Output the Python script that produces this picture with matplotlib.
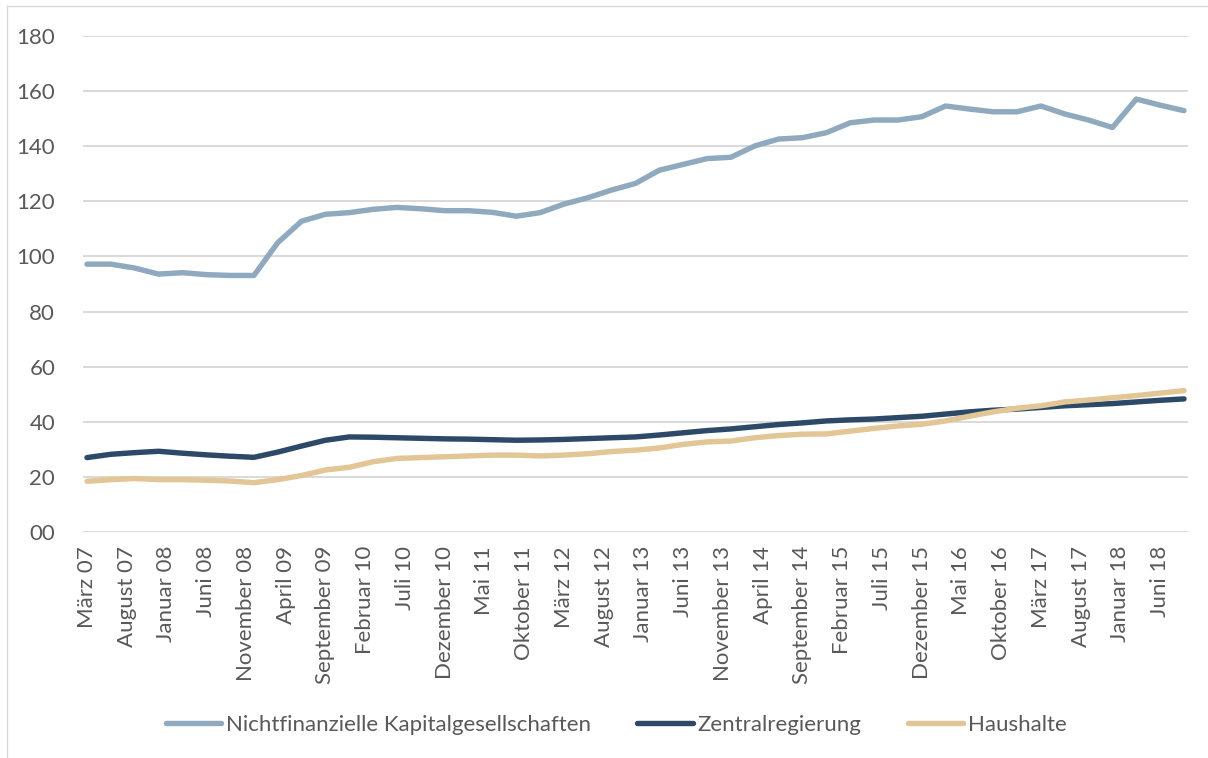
import matplotlib
matplotlib.use("Agg")
import matplotlib.pyplot as plt
from matplotlib.ticker import FixedLocator, FuncFormatter
from matplotlib.lines import Line2D

# Quarterly observations, March 2007 .. September 2018 (x in months since March 2007)
months = list(range(0, 139, 3))

nichtfinanzielle = [97.2, 97.2, 95.8, 93.6, 94.1, 93.4, 93.1, 93.1, 105.0, 112.8,
                    115.3, 115.9, 117.1, 117.8, 117.3, 116.6, 116.6, 116.0, 114.6, 115.9,
                    119.0, 121.3, 124.1, 126.5, 131.3, 133.4, 135.5, 136.0, 140.1, 142.6,
                    143.1, 144.9, 148.5, 149.5, 149.5, 150.7, 154.6, 153.5, 152.5, 152.5,
                    154.6, 151.7, 149.5, 146.8, 157.1, 154.9, 152.9]

zentralregierung = [27.0, 28.2, 28.8, 29.3, 28.6, 28.0, 27.5, 27.1, 29.0, 31.2,
                    33.3, 34.5, 34.4, 34.2, 34.0, 33.8, 33.7, 33.5, 33.3, 33.4,
                    33.6, 33.9, 34.2, 34.5, 35.2, 36.0, 36.8, 37.4, 38.2, 39.0,
                    39.6, 40.3, 40.7, 41.0, 41.5, 42.0, 42.8, 43.6, 44.2, 44.6,
                    45.2, 45.8, 46.2, 46.6, 47.2, 47.8, 48.3]

haushalte = [18.4, 19.0, 19.4, 19.0, 19.0, 18.8, 18.5, 17.9, 19.0, 20.5,
             22.5, 23.5, 25.5, 26.7, 27.0, 27.3, 27.6, 27.9, 27.9, 27.6,
             27.9, 28.4, 29.2, 29.7, 30.5, 31.8, 32.7, 33.0, 34.2, 35.0,
             35.5, 35.6, 36.6, 37.6, 38.5, 39.1, 40.3, 42.0, 43.6, 44.9,
             45.8, 47.2, 47.9, 48.7, 49.5, 50.4, 51.3]

tick_months = list(range(0, 136, 5))
tick_labels = ["März 07", "August 07", "Januar 08", "Juni 08", "November 08", "April 09",
               "September 09", "Februar 10", "Juli 10", "Dezember 10", "Mai 11",
               "Oktober 11", "März 12", "August 12", "Januar 13", "Juni 13",
               "November 13", "April 14", "September 14", "Februar 15", "Juli 15",
               "Dezember 15", "Mai 16", "Oktober 16", "März 17", "August 17",
               "Januar 18", "Juni 18"]

y_ticks = [0, 20, 40, 60, 80, 100, 120, 140, 160, 180]

series_names = ["Nichtfinanzielle Kapitalgesellschaften", "Zentralregierung", "Haushalte"]
colors = ["#8FA9BF", "#2C4A68", "#E2C695"]

plt.rcParams['font.family'] = ['Lato', 'DejaVu Sans']
text_color = "#595959"
fs = 16

W, H = 1208, 758
fig = plt.figure(figsize=(W / 100, H / 100), dpi=100)
ax = fig.add_axes([83 / W, 1 - 532 / H, (1188 - 83) / W, (532 - 36) / H])

for vals, name, c in zip([nichtfinanzielle, zentralregierung, haushalte], series_names, colors):
    ax.plot(months, vals, color=c, lw=3.9, solid_capstyle='round',
            solid_joinstyle='round', label=name, zorder=3)

ax.set_xlim(-0.5, 138.5)
ax.set_ylim(0, 180)
ax.yaxis.set_major_locator(FixedLocator(y_ticks))
ax.yaxis.set_major_formatter(FuncFormatter(lambda v, p: "00" if v == 0 else f"{int(v)}"))
ax.set_xticks(tick_months)
ax.set_xticklabels(tick_labels, rotation=90, ha='center', va='top')

ax.grid(axis='y', color='#D9D9D9', lw=1.4, zorder=0)
ax.grid(axis='x', visible=False)
for s in ax.spines.values():
    s.set_visible(False)
ax.tick_params(axis='both', length=0, colors=text_color, labelsize=fs)
ax.tick_params(axis='y', pad=20)
ax.tick_params(axis='x', pad=10)

handles = [Line2D([0], [0], color=c, lw=3.9, solid_capstyle='round') for c in colors]
leg = fig.legend(handles, series_names, loc='center', bbox_to_anchor=(616 / W, 1 - 725 / H),
                 ncol=3, frameon=False, fontsize=fs, handlelength=2.5, handletextpad=0.2,
                 columnspacing=2.1)
for t in leg.get_texts():
    t.set_color(text_color)

# chart area border (left and top visible)
fig.add_artist(Line2D([7 / W, 7 / W], [1 - 6 / H, 0], color='#D9D9D9', lw=1.0, transform=fig.transFigure))
fig.add_artist(Line2D([7 / W, 1], [1 - 6 / H, 1 - 6 / H], color='#D9D9D9', lw=1.0, transform=fig.transFigure))

fig.savefig("out.png", dpi=100)
